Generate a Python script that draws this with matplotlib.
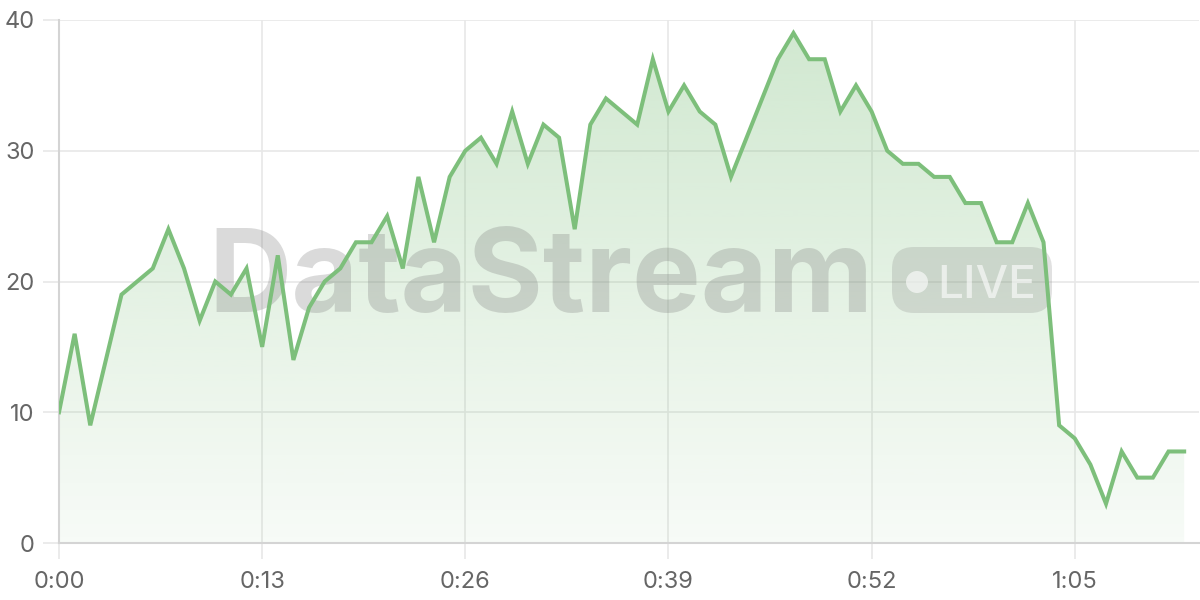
import matplotlib
matplotlib.use("Agg")
import matplotlib.pyplot as plt
import numpy as np
from matplotlib.patches import FancyBboxPatch, Circle, PathPatch
from matplotlib.transforms import IdentityTransform
from matplotlib.ticker import FuncFormatter
from matplotlib.colors import to_rgb

# ---- data ----
seconds = list(range(73))
values = [10, 16, 9, 14, 19, 20, 21, 24, 21, 17,
          20, 19, 21, 15, 22, 14, 18, 20, 21, 23,
          23, 25, 21, 28, 23, 28, 30, 31, 29, 33,
          29, 32, 31, 24, 32, 34, 33, 32, 37, 33,
          35, 33, 32, 28, 31, 34, 37, 39, 37, 37,
          33, 35, 33, 30, 29, 29, 28, 28, 26, 26,
          23, 23, 26, 23, 9, 8, 6, 3, 7, 5,
          5, 7, 7]
x_tick_seconds = [0, 13, 26, 39, 52, 65]
y_ticks = [0, 10, 20, 30, 40]
watermark = "DataStream"
badge_text = "LIVE"

LINE = "#7DBF7B"
GRID = "#e8e8e8"
AXIS = "#d4d4d4"
TEXT = "#666666"

plt.rcParams['font.family'] = ['Inter', 'DejaVu Sans']

fig = plt.figure(figsize=(12, 6), dpi=100)
ax = fig.add_axes([59/1200, 57/600, 1140/1200, 523/600])
ax.set_xlim(0, 72.95)
ax.set_ylim(0, 40)

x = np.array(seconds, dtype=float)
y = np.array(values, dtype=float)

# gradient fill
poly = ax.fill_between(x, y, 0, color='none', linewidth=0)
path = poly.get_paths()[0]
patch = PathPatch(path, facecolor='none', edgecolor='none', transform=ax.transData)
ax.add_patch(patch)
r, g, b = to_rgb(LINE)
grad = np.zeros((256, 1, 4))
alphas = np.linspace(0.06, 0.36, 256)
grad[:, 0, 0] = r
grad[:, 0, 1] = g
grad[:, 0, 2] = b
grad[:, 0, 3] = alphas
im = ax.imshow(grad, extent=[0, 72.95, 0, 40], origin='lower', aspect='auto', zorder=1,
               interpolation='bilinear')
im.set_clip_path(patch)

# watermark
ax.text(541, 600 - 312, watermark, transform=IdentityTransform(), ha='center', va='baseline',
        fontsize=83, fontweight='bold', color='#7a7a7a', alpha=0.28, zorder=2, clip_on=False)
badge = FancyBboxPatch((892, 600 - 313), 160, 66, boxstyle="round,pad=0,rounding_size=22",
                       transform=IdentityTransform(), facecolor='#7a7a7a', edgecolor='none',
                       alpha=0.22, zorder=2, clip_on=False)
ax.add_patch(badge)
ax.add_patch(Circle((917, 600 - 282), 11, transform=IdentityTransform(), facecolor='white',
                    edgecolor='none', alpha=0.6, zorder=2.1, clip_on=False))
ax.text(937, 600 - 298, badge_text, transform=IdentityTransform(), ha='left', va='baseline',
        fontsize=33, fontweight='medium', color='white', alpha=0.6, zorder=2.1, clip_on=False)

# line
ax.plot(x, y, color=LINE, linewidth=2.9, zorder=3, solid_joinstyle='miter')

# axes styling
ax.set_xticks(x_tick_seconds)
ax.set_yticks(y_ticks)
ax.xaxis.set_major_formatter(FuncFormatter(lambda v, p: f"{int(v)//60}:{int(v)%60:02d}"))
ax.grid(True, color=GRID, linewidth=1.2, zorder=0)
ax.set_axisbelow(True)
for s in ['top', 'right']:
    ax.spines[s].set_visible(False)
for s in ['left', 'bottom']:
    ax.spines[s].set_color(AXIS)
    ax.spines[s].set_linewidth(1.5)
ax.tick_params(axis='both', direction='out', length=11.5, width=1.2, color=GRID,
               labelcolor=TEXT, labelsize=17)
ax.tick_params(axis='y', pad=6)
ax.tick_params(axis='x', pad=9)
ax.set_facecolor('white')

fig.savefig("out.png", dpi=100)
